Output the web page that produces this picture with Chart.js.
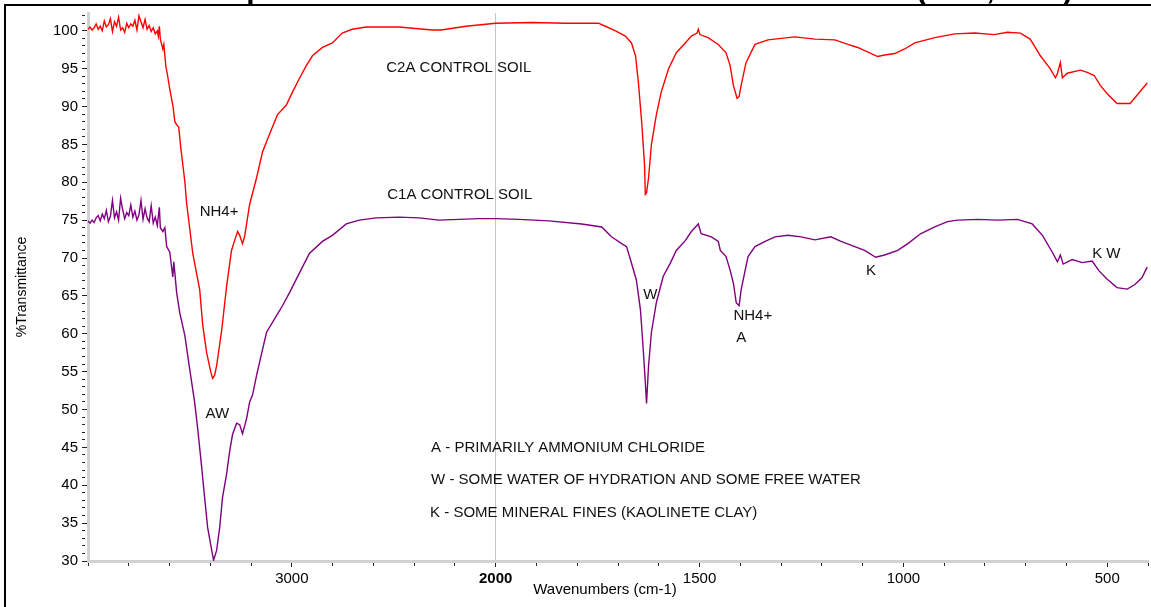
<!DOCTYPE html>
<html>
<head>
<meta charset="utf-8">
<script src="https://cdn.jsdelivr.net/npm/chart.js@4.4.1/dist/chart.umd.min.js"></script>
<style>
  html, body { margin: 0; padding: 0; background: #fff; }
  #wrap { width: 1151px; height: 607px; position: relative; }
</style>
</head>
<body>
<div id="wrap"><canvas id="ftir"></canvas></div>
<script>
// values: wavenumber (cm-1) and %T
const c2aWavenumber = [4000,3990,3980,3970,3960,3950,3940,3930,3920,3910,3900,3890,3880,3870,3860,3850,3840,3830,3820,3810,3800,3790,3780,3770,3760,3750,3740,3730,3720,3710,3700,3690,3680,3670,3660,3655,3650,
  3645,3633,3628,3618,3609,3599,3584,3574,3565,3555,3545,3525,3516,
  3486,3452,3437,3418,3398,3389,3379,3369,3344,3320,
  3296,3281,3266,3256,3242,3232,3222,3207,
  3173,3144,3110,3071,3027,2997,2963,2929,2899,2850,
  2801,2753,2704,2635,2557,2474,2312,2268,2146,2000,
  1912,1828,1748,1731,1706,1682,1667,1657,1650,1642,
  1635,1633,1630,1625,1618,1606,1594,1576,1557,1535,
  1520,1506,1503,1499,1479,1454,1435,1425,1417,1408,
  1403,1398,1386,1364,1332,1300,1266,1217,1168,1136,
  1112,1063,1046,1021,997,972,923,874,825,777,
  745,713,689,664,640,627,622,615,610,598,
  566,549,532,517,500,476,444,427,402];
const c2aTransmittance = [100.2,100.5,100.1,100.4,100.9,100.2,100.6,100.0,101.3,100.5,100.8,101.6,99.9,101.2,100.6,101.8,100.1,100.4,99.8,101.0,100.4,100.9,100.6,101.4,100.1,102.0,101.2,100.4,101.5,100.2,100.7,99.9,100.4,99.6,100.0,99.3,100.6,
  98.9,97.6,98.2,95.3,94.0,92.3,90.2,88.0,87.6,87.3,84.6,80.1,77.2,
  70.6,65.8,61.1,57.5,55.0,54.1,54.5,55.8,60.5,66.3,
  71.0,72.3,73.5,73.0,71.9,72.8,74.5,77.1,
  80.6,84.0,86.3,88.9,90.2,91.9,93.7,95.4,96.7,97.8,
  98.4,99.7,100.2,100.5,100.5,100.5,100.1,100.1,100.6,101.0,
  101.1,101.0,101.0,100.6,100.0,99.3,98.4,96.7,93.2,88.0,
  82.4,78.4,78.6,80.6,85.0,88.9,91.9,95.0,97.1,98.4,
  99.3,99.7,100.2,99.5,99.1,98.2,97.1,95.4,92.8,91.1,
  91.3,92.8,95.8,98.2,98.8,99.0,99.2,98.9,98.8,98.2,
  97.8,96.6,96.8,97.0,97.6,98.4,99.1,99.6,99.7,99.5,
  99.8,99.7,98.9,96.7,95.0,93.8,94.4,95.8,93.8,94.4,
  94.8,94.5,94.1,92.8,91.7,90.4,90.4,91.5,93.1];

const c1aWavenumber = [4000,3990,3980,3970,3960,3950,3940,3930,3920,3910,3900,3890,3880,3870,3860,3850,3840,3830,3820,3810,3800,3790,3780,3770,3760,3750,3740,3730,3720,3710,3700,3690,3680,3670,3660,3650,
  3645,3633,3623,3614,3599,3584,3579,3565,3550,3525,
  3501,3477,3462,3442,3428,3413,3393,3384,3369,3354,
  3340,3320,3305,3291,3271,3256,3242,3222,3207,3193,
  3173,3144,3124,3075,3046,3012,2963,2914,2850,2801,
  2733,2669,2586,2474,2376,2278,2180,2082,2000,1943,
  1870,1789,1740,1716,1691,1679,1669,1655,1645,1638,
  1633,1630,1625,1618,1606,1589,1572,1557,1535,1520,
  1503,1496,1471,1454,1449,1435,1425,1417,1410,1403,
  1398,1388,1381,1364,1339,1315,1283,1251,1217,1178,
  1153,1129,1095,1068,1046,1014,989,958,923,892,
  867,818,769,720,684,659,635,622,615,608,
  586,561,537,520,500,476,451,432,415,402];
const c1aTransmittance = [74.9,74.6,75.0,74.7,75.3,75.6,74.9,75.8,75.2,76.3,74.8,75.5,77.6,75.3,76.1,75.0,77.9,76.4,75.2,76.0,75.6,77.0,75.4,76.2,75.0,75.7,77.6,75.1,76.5,75.3,74.8,76.9,74.6,75.4,74.3,76.7,
  74.0,73.5,74.0,71.5,70.8,67.5,69.5,65.4,62.8,59.8,
  55.3,51.0,47.5,42.3,38.4,34.4,31.4,30.1,31.4,34.4,
  38.4,41.5,44.5,46.7,48.2,48.0,46.8,48.8,51.0,51.9,
  54.5,57.9,60.2,62.4,63.7,65.4,68.0,70.6,72.2,73.0,
  74.5,75.0,75.3,75.4,75.3,75.0,75.1,75.2,75.2,75.1,
  74.9,74.5,74.1,72.8,71.9,71.5,69.7,67.1,63.2,57.9,
  53.6,50.8,55.8,60.2,64.1,67.6,69.3,71.0,72.3,73.5,
  74.5,73.2,72.8,72.2,71.0,70.2,68.4,66.7,64.1,63.7,
  65.8,68.4,70.2,71.5,72.2,72.8,73.0,72.8,72.4,72.8,
  72.2,71.7,71.0,70.1,70.4,71.0,71.9,73.2,74.1,74.8,
  75.0,75.1,75.0,75.1,74.5,73.0,70.8,69.5,70.4,69.2,
  69.8,69.4,69.6,68.3,67.2,66.1,65.9,66.5,67.4,68.8];

const xTickLabels = [3000, 2000, 1500, 1000, 500];

// text on the plot: [text, wavenumber, %T] (left edge, middle)
const notes = [
  ['C2A CONTROL SOIL', 2537, 95.1],
  ['C1A CONTROL SOIL', 2532, 78.4],
  ['NH4+', 3452, 76.15],
  ['AW', 3423, 49.4],
  ['W', 1638, 65.2],
  ['NH4+', 1417, 62.4],
  ['A', 1410, 59.4],
  ['K', 1092, 68.3],
  ['K W', 537, 70.5],
  ['A - PRIMARILY AMMONIUM CHLORIDE', 2317, 45.0],
  ['W - SOME WATER OF HYDRATION AND SOME FREE WATER', 2317, 40.7],
  ['K - SOME MINERAL FINES (KAOLINETE CLAY)', 2322, 36.3]
];

// split axis like OMNIC: above 2000 cm-1 runs at half scale
function toAxis(wn) { return wn >= 2000 ? (4000 - wn) / 2 : 1000 + (2000 - wn); }
function fromAxis(u) { return u <= 1000 ? 4000 - 2 * u : 2000 - (u - 1000); }

function pairs(wn, t) {
  let out = [];
  for (let i = 0; i < wn.length; i++) out.push({x: toAxis(wn[i]), y: t[i]});
  return out;
}

const FONT = "'Liberation Sans', Arial, sans-serif";
const majorX = xTickLabels.map(toAxis);

const notesPlugin = {
  id: 'notes',
  afterDatasetsDraw(chart) {
    const ctx = chart.ctx, xs = chart.scales.x, ys = chart.scales.y;
    ctx.save();
    ctx.font = '15px ' + FONT;
    ctx.fillStyle = '#111';
    ctx.textAlign = 'left';
    ctx.textBaseline = 'middle';
    notes.forEach(n => {
      ctx.fillText(n[0], xs.getPixelForValue(toAxis(n[1])), ys.getPixelForValue(n[2]));
    });
    ctx.restore();
  },
  afterDraw(chart) {
    const ctx = chart.ctx;
    ctx.save();
    // x axis title, sits a bit left of the plot centre in the original
    ctx.font = '15px ' + FONT;
    ctx.fillStyle = '#000';
    ctx.textAlign = 'center';
    ctx.textBaseline = 'middle';
    ctx.fillText('Wavenumbers (cm-1)', 605, 590);
    // title sits above the visible crop, only the descenders show
    ctx.font = 'bold 30px ' + FONT;
    ctx.textAlign = 'right';
    ctx.textBaseline = 'alphabetic';
    ctx.fillText('FTIR Spectra of the Untreated Control Soil Standards (C2A, C1A)', 1073, -1);
    // frame
    ctx.fillRect(4, 4, chart.width - 4, 2);
    ctx.fillRect(4, 4, 2, chart.height - 4);
    ctx.restore();
  }
};

new Chart(document.getElementById('ftir'), {
  type: 'line',
  data: {
    datasets: [
      {
        label: 'C2A CONTROL SOIL',
        data: pairs(c2aWavenumber, c2aTransmittance),
        borderColor: '#ff0000',
        borderWidth: 1.4,
        pointRadius: 0,
        tension: 0
      },
      {
        label: 'C1A CONTROL SOIL',
        data: pairs(c1aWavenumber, c1aTransmittance),
        borderColor: '#800080',
        borderWidth: 1.4,
        pointRadius: 0,
        tension: 0
      }
    ]
  },
  options: {
    responsive: true,
    maintainAspectRatio: false,
    animation: false,
    layout: { padding: { left: 6, top: 7, right: 0, bottom: 0 } },
    plugins: { legend: { display: false }, tooltip: { enabled: false } },
    scales: {
      x: {
        type: 'linear',
        min: 0,
        max: 2600,
        afterFit: s => { s.height = 46; },
        ticks: {
          stepSize: 100,
          autoSkip: false,
          includeBounds: false,
          maxRotation: 0,
          padding: 3,
          color: '#000',
          font: c => ({ family: FONT, size: 15, weight: (c.tick && c.tick.value === 1000) ? 'bold' : 'normal' }),
          callback: v => majorX.includes(v) ? String(fromAxis(v)) : ''
        },
        grid: {
          color: c => (c.tick && c.tick.value === 1000) ? '#c4c4c4' : 'rgba(0,0,0,0)',
          tickColor: '#222',
          tickLength: 6,
          tickBorderDash: c => (c.tick && majorX.includes(c.tick.value)) ? [] : [3, 20]
        },
        border: { display: true, color: '#d2d2d2', width: 3 },
        title: { display: false }
      },
      y: {
        min: 30,
        max: 102.35,
        afterFit: s => { s.width = 82; },
        ticks: {
          stepSize: 1,
          autoSkip: false,
          includeBounds: false,
          padding: 4,
          color: '#000',
          font: { family: FONT, size: 15 },
          callback: v => Math.abs(v % 5) < 1e-6 ? String(v) : ''
        },
        grid: {
          drawOnChartArea: false,
          tickColor: '#222',
          tickLength: 6,
          tickBorderDash: c => (c.tick && Math.abs(c.tick.value % 5) < 1e-6) ? [] : [3, 20]
        },
        border: { display: true, color: '#d2d2d2', width: 3 },
        title: {
          display: true,
          text: '%Transmittance',
          color: '#000',
          font: { family: FONT, size: 14 },
          padding: { top: 8, bottom: 0 }
        }
      }
    }
  },
  plugins: [notesPlugin]
});
</script>
</body>
</html>
